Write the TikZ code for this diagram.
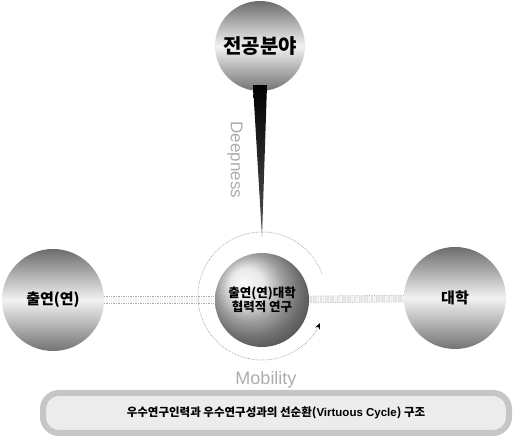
\documentclass[tikz,border=0pt]{standalone}
\usepackage{fontspec}
\setmainfont{Noto Sans CJK KR}
\newfontfamily\latin{Liberation Sans}
\usepackage{tikz}
\usetikzlibrary{arrows.meta,positioning,backgrounds}
\usepackage{xcolor}

\begin{document}
\begin{tikzpicture}[
    x=1pt, y=1pt,
    ball/.style={circle, draw=none, minimum size=#1, inner sep=0pt, align=center, font=\bfseries,
        top color=gray!85!black, bottom color=gray!90!black, middle color=gray!10},
    core/.style={circle, draw=none, minimum size=#1, inner sep=0pt, align=center, ball color=gray!25},
    band/.style={draw=gray!65, densely dotted, line width=0.7pt, double=gray!10, double distance=6pt},
    ring/.style={gray!75, densely dotted, line width=0.7pt, -{Stealth[length=6pt, width=5pt, black]}},
    word/.style={font=\latin, text=gray!65},
    banner/.style={draw=gray!45, line width=6pt, fill=gray!15, rounded corners=16pt,
        minimum width=466pt, minimum height=40pt}
]
\useasboundingbox (0,0) rectangle (515,442);

\node[ball=90pt] (field) at (260,396) {\fontsize{20}{22}\selectfont\bfseries 전공분야};
\node[ball=102pt] (inst) at (53,142) {\fontsize{15}{17}\selectfont\bfseries 출연(연)};
\node[ball=102pt] (univ) at (455,144) {\fontsize{15}{17}\selectfont\bfseries 대학};
\node[core=94pt] (coop) at (262,142) {\fontsize{12.5}{16}\selectfont\bfseries 출연(연)대학\\\fontsize{12.5}{16}\selectfont\bfseries 협력적 연구};
\coordinate (hub) at (262,146);
\coordinate (tip) at (262,205);

\begin{pgfonlayer}{background}
\draw[band] (inst.center) -- (coop.center);
\draw[band] (coop.center) -- (univ.center);
\end{pgfonlayer}

\shade[top color=black, bottom color=gray!65!black] ([xshift=-7pt, yshift=6pt]field.south) -- ([xshift=7pt, yshift=6pt]field.south) -- (tip) -- cycle;
\node[word, rotate=-90, font=\latin\fontsize{17}{19}\selectfont] (deep) at (235,282) {Deepness};

\draw[ring] ([shift={(20:64)}]hub) arc[start angle=20, end angle=335, radius=64];
\node[word, font=\latin\fontsize{18}{20}\selectfont] (mob) at (266,62) {Mobility};

\node[banner] (title) at (276,29) {\fontsize{11.5}{13}\selectfont\bfseries 우수연구인력과 우수연구성과의 선순환({\latin\bfseries Virtuous Cycle}) 구조};
\end{tikzpicture}
\end{document}
